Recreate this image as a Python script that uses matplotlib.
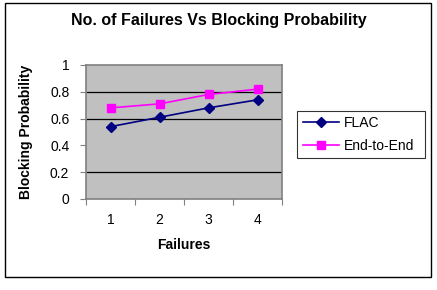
import matplotlib.pyplot as plt
from matplotlib.patches import Rectangle

failures = [1, 2, 3, 4]
flac = [0.54, 0.61, 0.68, 0.74]
end_to_end = [0.68, 0.71, 0.78, 0.82]
y_ticks = [0, 0.2, 0.4, 0.6, 0.8, 1]
y_labels = ['0', '0.2', '0.4', '0.6', '0.8', '1']
grid_at = [0.2, 0.6, 0.8]

plt.rcParams['font.family'] = ['Liberation Sans', 'DejaVu Sans']

fig = plt.figure(figsize=(4.37, 2.90), dpi=100)
fig.patches.append(Rectangle((5 / 437, 1 - 277 / 290), 426 / 437, 274 / 290,
                             transform=fig.transFigure, fill=False,
                             edgecolor='black', linewidth=1))
ax = fig.add_axes([86 / 437, 1 - 199 / 290, 196 / 437, 134 / 290])
ax.set_facecolor('#c0c0c0')

for g in grid_at:
    ax.axhline(g, color='black', linewidth=0.9, zorder=1)

ax.plot(failures, flac, color='#000080', marker='D', markersize=5,
        linewidth=1.2, label='FLAC', zorder=3)
ax.plot(failures, end_to_end, color='#ff00ff', marker='s', markersize=6,
        linewidth=1.2, label='End-to-End', zorder=3)

ax.set_xlim(0.5, 4.5)
ax.set_ylim(0, 1)
ax.set_xticks([0.5, 1.5, 2.5, 3.5, 4.5])
ax.set_xticklabels([])
ax.set_xticks(failures, minor=True)
ax.set_xticklabels([str(f) for f in failures], minor=True, fontsize=10)
ax.tick_params(axis='x', which='minor', length=0, pad=10)
ax.tick_params(axis='x', which='major', length=4, direction='out', color='#808080')
ax.set_yticks(y_ticks)
ax.set_yticklabels(y_labels, fontsize=10)
ax.tick_params(axis='y', length=4, color='#808080', pad=8)
for s in ax.spines.values():
    s.set_color('#808080')
    s.set_linewidth(1.2)

ax.set_xlabel('Failures', fontsize=10, fontweight='bold', labelpad=8)
ax.set_ylabel('Blocking Probability', fontsize=10, fontweight='bold', labelpad=12)
fig.text(0.5, 1 - 20 / 290, 'No. of Failures Vs Blocking Probability',
         ha='center', va='center', fontsize=11.5, fontweight='bold')

leg = ax.legend(loc='center left', bbox_to_anchor=(297 / 437, 1 - 156 / 290, 128 / 437, 43 / 290),
                bbox_transform=fig.transFigure, fontsize=10, frameon=True,
                fancybox=False, edgecolor='black', borderaxespad=0,
                handlelength=2.6, handletextpad=0.4, labelspacing=0.6,
                borderpad=0.4, mode='expand')
leg.get_frame().set_linewidth(0.8)

fig.savefig('out.png', dpi=100)
